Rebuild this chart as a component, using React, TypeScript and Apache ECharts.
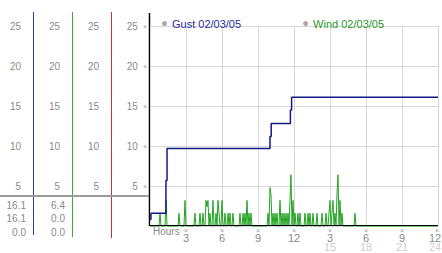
import React, { useEffect, useRef } from "react";
import * as echarts from "echarts";

const GUST_NAME = "Gust 02/03/05";
const WIND_NAME = "Wind 02/03/05";

// Gust step line: [hour, mph] (value holds until next point)
const gustPoints: [number, number][] = [
  [0, 0.8],
  [0.08, 1.6],
  [1.33, 5.7],
  [1.42, 9.7],
  [10.0, 11.2],
  [10.1, 12.8],
  [11.7, 14.5],
  [11.8, 16.1],
  [24, 16.1],
];

// Wind samples every 5 minutes, one row per hour (hours 0..17), zero afterwards
const windRows: number[][] = [
  [0, 0, 0, 0, 0, 0, 0, 0, 0, 0, 1.6, 0],
  [0, 0, 0, 0, 3.2, 0, 0, 0, 0, 0, 0, 0],
  [0, 0, 0, 0, 0, 1.6, 0, 0, 0, 0, 0, 3.2],
  [0, 0, 0, 0, 0, 0, 0, 0, 0, 1.6, 0, 0],
  [0, 0, 1.6, 0, 0, 1.6, 0, 0, 3.2, 2.4, 3.2, 0],
  [1.6, 0, 0, 3.2, 0, 0, 1.6, 0, 3.2, 1.6, 0, 0],
  [3.2, 0, 0, 1.6, 0, 0, 1.6, 0, 1.6, 0, 0, 1.6],
  [0, 0, 0, 0, 0, 0, 1.6, 0, 0, 1.6, 0, 1.6],
  [0, 3.2, 0, 1.6, 0, 1.6, 0, 0, 0, 0, 0, 0],
  [0, 0, 0, 0, 0, 0, 0, 0, 0, 0, 1.6, 0],
  [4.8, 3.9, 0, 1.6, 0, 1.6, 0, 1.6, 0, 0, 3.2, 0],
  [1.6, 0, 1.6, 0, 1.6, 0, 1.6, 0, 3.2, 6.4, 0, 3.2],
  [0, 1.6, 0, 0, 1.6, 0, 1.6, 0, 0, 0, 0, 1.6],
  [0, 0, 1.6, 0, 1.6, 0, 0, 1.6, 0, 0, 0, 1.6],
  [0, 0, 0, 0, 1.6, 0, 0, 0, 1.6, 0, 0, 1.6],
  [3.2, 0, 1.6, 3.2, 0, 1.6, 0, 4.0, 6.4, 0, 3.2, 0],
  [1.6, 0, 0, 0, 0, 0, 0, 0, 0, 0, 0, 0],
  [0, 1.6, 0, 0, 0, 0, 0, 0, 0, 0, 0, 0],
];
const windEnd: [number, number] = [24, 0];

// Value table below the separator
const gustStats = ["16.1", "16.1", "0.0"];
const windStats = ["6.4", "0.0", "0.0"];

const FONT = "Liberation Sans";

export default function App() {
  const ref = useRef<HTMLDivElement>(null);

  useEffect(() => {
    if (!ref.current) return;
    const chart = echarts.init(ref.current, null, { renderer: "svg" });

    const windData: [number, number][] = [];
    windRows.forEach((row, h) =>
      row.forEach((v, k) => windData.push([h + k / 12, v]))
    );
    windData.push(windEnd);

    const colLabel = (margin: number) => ({
      show: true,
      margin,
      color: "#8a8a8a",
      fontSize: 10,
      fontFamily: FONT,
      formatter: (v: number) => (v === 0 ? "" : String(v)),
    });

    const sideAxis = (offset: number) => ({
      type: "value",
      position: "left",
      offset,
      min: 0,
      max: 25,
      interval: 5,
      axisLine: { show: false },
      axisTick: { show: false },
      splitLine: { show: false },
      axisLabel: colLabel(12),
    });

    const statTexts: any[] = [];
    gustStats.forEach((s, i) =>
      statTexts.push({
        type: "text",
        x: 26,
        y: 205 + i * 13.6,
        style: { text: s, fill: "#8a8a8a", font: `10px "${FONT}"`, align: "right", verticalAlign: "middle" },
      })
    );
    windStats.forEach((s, i) =>
      statTexts.push({
        type: "text",
        x: 65,
        y: 205 + i * 13.6,
        style: { text: s, fill: "#8a8a8a", font: `10px "${FONT}"`, align: "right", verticalAlign: "middle" },
      })
    );

    chart.setOption({
      animation: false,
      backgroundColor: "#ffffff",
      textStyle: { fontFamily: FONT },
      grid: { left: 150, right: 4, top: 26, bottom: 27, containLabel: false, outerBoundsMode: "none" },
      legend: {
        left: 157,
        top: 13,
        icon: "circle",
        itemWidth: 5,
        itemHeight: 5,
        itemGap: 62,
        textStyle: { fontSize: 11, fontFamily: FONT },
        data: [
          { name: GUST_NAME, itemStyle: { color: "#aaaaaa" }, textStyle: { color: "#1f2f99" } },
          { name: WIND_NAME, itemStyle: { color: "#aaaaaa" }, textStyle: { color: "#2a9a2a" } },
        ],
      },
      xAxis: {
        type: "value",
        min: 0,
        max: 24,
        interval: 3,
        axisLine: { show: false },
        axisTick: { show: false },
        splitLine: { show: true, lineStyle: { color: "#d8d8d8", width: 1 } },
        axisLabel: {
          show: true,
          margin: 1,
          showMinLabel: true,
          showMaxLabel: true,
          alignMinLabel: "left",
          formatter: (v: number) => {
            if (v === 0) return "{h|Hours}";
            if (v === 24) return "{m2|×}\n{n2|12}\n{g2|24}";
            const top = v > 12 ? v - 12 : v;
            let s = `{m|×}\n{n|${top}}`;
            if (v > 12) s += `\n{g|${v}}`;
            return s;
          },
          rich: {
            h: { color: "#8a8a8a", fontSize: 10, fontFamily: FONT, lineHeight: 9, padding: [0, 0, 0, 3] },
            m: { color: "#9a9a9a", fontSize: 7, lineHeight: 6 },
            n: { color: "#8a8a8a", fontSize: 11, fontFamily: FONT, lineHeight: 9 },
            g: { color: "#d0d0d0", fontSize: 11, fontFamily: FONT, lineHeight: 10 },
            m2: { color: "#9a9a9a", fontSize: 7, lineHeight: 6, padding: [0, 2, 0, 0] },
            n2: { color: "#8a8a8a", fontSize: 11, fontFamily: FONT, lineHeight: 9, padding: [0, 6, 0, 0] },
            g2: { color: "#d0d0d0", fontSize: 11, fontFamily: FONT, lineHeight: 10, padding: [0, 6, 0, 0] },
          },
        },
      },
      yAxis: [
        {
          type: "value",
          position: "left",
          offset: 0,
          min: 0,
          max: 25,
          interval: 5,
          axisLine: { show: false },
          axisTick: { show: false },
          splitLine: { show: true, lineStyle: { color: "#d8d8d8", width: 1 } },
          axisLabel: {
            show: true,
            margin: 3,
            formatter: (v: number) => (v === 0 ? "" : `{v|${v}}{m|×}`),
            rich: {
              v: { color: "#8a8a8a", fontSize: 10, fontFamily: FONT, padding: [0, 5, 0, 0] },
              m: { color: "#9a9a9a", fontSize: 7 },
            },
          },
        },
        sideAxis(39),
        sideAxis(78),
        sideAxis(117),
      ],
      series: [
        {
          name: WIND_NAME,
          type: "line",
          yAxisIndex: 0,
          data: windData,
          showSymbol: false,
          symbol: "none",
          clip: false,
          lineStyle: { color: "#22a322", width: 1 },
          itemStyle: { color: "#22a322" },
          z: 2,
        },
        {
          name: GUST_NAME,
          type: "line",
          yAxisIndex: 0,
          data: gustPoints,
          step: "end",
          showSymbol: false,
          symbol: "none",
          lineStyle: { color: "#121a86", width: 1.5 },
          itemStyle: { color: "#121a86" },
          z: 3,
          markLine: {
            silent: true,
            symbol: "none",
            label: { show: false },
            lineStyle: { color: "#000000", width: 1, type: "solid" },
            data: [{ yAxis: 0.13 }],
          },
        },
      ],
      graphic: [
        { type: "line", shape: { x1: 33.5, y1: 12, x2: 33.5, y2: 235 }, style: { stroke: "#2a45a8", lineWidth: 1 } },
        { type: "line", shape: { x1: 72.5, y1: 12, x2: 72.5, y2: 237 }, style: { stroke: "#3aa83a", lineWidth: 1 } },
        { type: "line", shape: { x1: 111.5, y1: 12, x2: 111.5, y2: 238 }, style: { stroke: "#b83a3a", lineWidth: 1 } },
        { type: "line", shape: { x1: 149.5, y1: 13, x2: 149.5, y2: 226 }, style: { stroke: "#000000", lineWidth: 1.5 } },
        { type: "line", shape: { x1: 0, y1: 196, x2: 149, y2: 196 }, style: { stroke: "#9c9c9c", lineWidth: 2 } },
        ...statTexts,
      ],
    });

    return () => chart.dispose();
  }, []);

  return (
    <div
      ref={ref}
      style={{ position: "fixed", left: 0, top: 0, width: 442, height: 253, background: "#fff" }}
    />
  );
}
